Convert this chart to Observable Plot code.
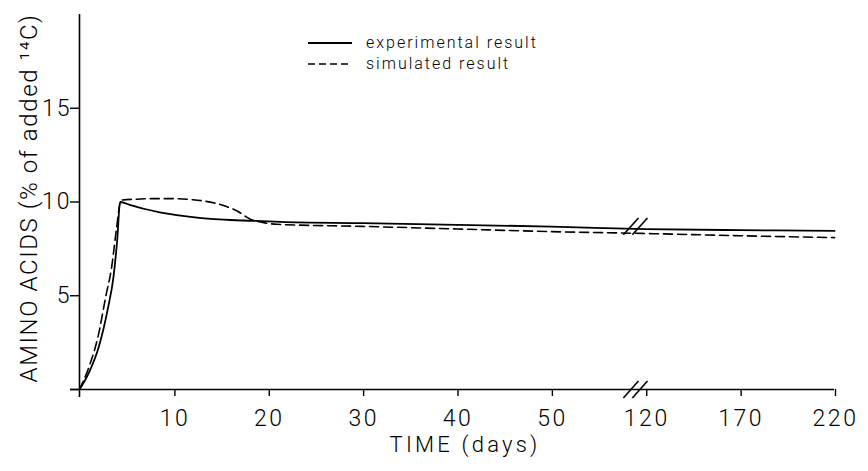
<!DOCTYPE html>
<html>
<head>
<meta charset="utf-8">
<script src="https://cdn.jsdelivr.net/npm/d3@7"></script>
<script src="https://cdn.jsdelivr.net/npm/@observablehq/plot@0.6"></script>
<style>
  body { margin: 0; background: #fff; }
  #wrap { position: relative; width: 868px; height: 471px; font-family: Roboto, "Liberation Sans", sans-serif; font-weight: 300; }
  .legend { position: absolute; left: 308px; top: 32px; font-size: 16px; letter-spacing: 2px; color: #000; }
  .legend .row { display: flex; align-items: center; height: 21px; }
  .legend svg { width: 44px; height: 10px; margin-right: 14px; }
  g[aria-label="x-axis tick label"] text { letter-spacing: 2.5px; }
  g[aria-label="y-axis tick label"] text { letter-spacing: 2px; }
</style>
</head>
<body>
<div id="wrap"></div>
<script>
// Experimental result (solid line): time in days, % of added 14C
const expDays = [0, 1, 2, 3, 3.6, 4.0, 4.3, 5.5, 6.8, 8.5, 10.3, 12, 13.9, 16, 18.1, 21.3, 30, 40, 50, 120, 170, 220];
const expVals = [0, 0.9, 2.2, 4.3, 6.0, 8.0, 10.0, 9.82, 9.64, 9.45, 9.3, 9.19, 9.1, 9.04, 9.0, 8.94, 8.87, 8.78, 8.69, 8.55, 8.5, 8.46];
// Simulated result (dashed line)
const simDays = [0, 1, 2, 2.8, 3.4, 3.9, 4.4, 6, 8, 10, 12, 14, 14.9, 16.7, 18.1, 19.5, 20.9, 30, 40, 50, 120, 170, 220];
const simVals = [0, 1.2, 2.9, 5.0, 6.5, 8.5, 10.1, 10.15, 10.18, 10.18, 10.12, 9.98, 9.87, 9.52, 9.08, 8.9, 8.81, 8.7, 8.56, 8.42, 8.32, 8.2, 8.1];
// Axis ticks
const xTickDays = [10, 20, 30, 40, 50, 120, 170, 220];
const yTicks = [0, 5, 10, 15];
// Axis break marks (day, value)
const breakDays = [109, 109];
const breakVals = [0, 8.7];
const seriesNames = ["experimental result", "simulated result"];
const xLabel = "TIME (days)";
const yLabel = "AMINO ACIDS (% of added \u00B9\u2074C)";

// broken time axis: 0–50 linear, 50–120 compressed (break), 120–220 compressed
const pos = d => d <= 50 ? d : d <= 120 ? 50 + (d - 50) / 7 : 60 + (d - 120) / 5;

const expData = expDays.map((d, i) => ({x: pos(d), y: expVals[i]}));
const simData = simDays.map((d, i) => ({x: pos(d), y: simVals[i]}));
const breaks = breakDays.map((d, i) => ({x: pos(d), y: breakVals[i]}));
const xTickLabel = new Map(xTickDays.map(d => [pos(d), String(d)]));

const brk = (dx) => Plot.link(breaks, {
  x1: d => d.x - 0.8, x2: d => d.x + 0.8,
  y1: d => d.y - 0.45, y2: d => d.y + 0.45,
  dx, stroke: "black", strokeWidth: 1.6
});

const chart = Plot.plot({
  width: 868,
  height: 471,
  marginLeft: 79,
  marginRight: 34,
  marginTop: 14,
  marginBottom: 82,
  style: {fontFamily: "Roboto, 'Liberation Sans', sans-serif", fontWeight: 300, background: "white", color: "black"},
  x: {domain: [0, 80], axis: null},
  y: {domain: [0, 20], axis: null},
  marks: [
    Plot.ruleX([0], {insetBottom: -8, stroke: "black", strokeWidth: 1.6}),
    Plot.ruleY([0], {insetLeft: -9, stroke: "black", strokeWidth: 1.6}),
    Plot.axisY({ticks: yTicks, tickFormat: d => d === 0 ? "" : String(d), tickSize: 9, tickPadding: -1, fontSize: 23, label: null, strokeWidth: 1.4}),
    Plot.axisX({ticks: xTickDays.map(pos), tickFormat: d => xTickLabel.get(d), tickSize: 7, tickPadding: 13, fontSize: 23, dx: 1, label: null, strokeWidth: 1.4}),
    Plot.line(expData, {x: "x", y: "y", stroke: "black", strokeWidth: 1.8, curve: "monotone-x"}),
    Plot.line(simData, {x: "x", y: "y", stroke: "black", strokeWidth: 1.6, strokeDasharray: "9,5", curve: "monotone-x"}),
    brk(0),
    brk(9),
    Plot.text([xLabel], {frameAnchor: "bottom", lineAnchor: "top", textAnchor: "middle", dy: 47, dx: 8, fontSize: 22}),
    Plot.text([yLabel], {frameAnchor: "left", rotate: -90, textAnchor: "middle", lineAnchor: "middle", dx: -50, dy: -4, fontSize: 24})
  ]
});

// widen the hand-lettered looking titles
d3.select(chart).selectAll("text")
  .filter(function() { return this.textContent === xLabel; })
  .attr("letter-spacing", "3.2px");
d3.select(chart).selectAll("text")
  .filter(function() { return this.textContent === yLabel; })
  .attr("letter-spacing", "1.6px");

const wrap = document.getElementById("wrap");
wrap.appendChild(chart);

const legend = document.createElement("div");
legend.className = "legend";
legend.innerHTML = seriesNames.map((name, i) =>
  `<div class="row"><svg viewBox="0 0 44 10"><line x1="0" x2="44" y1="5" y2="5" stroke="black" stroke-width="${i ? 1.5 : 2}" ${i ? 'stroke-dasharray="7,4"' : ''}/></svg><span>${name}</span></div>`
).join("");
wrap.appendChild(legend);
</script>
</body>
</html>
